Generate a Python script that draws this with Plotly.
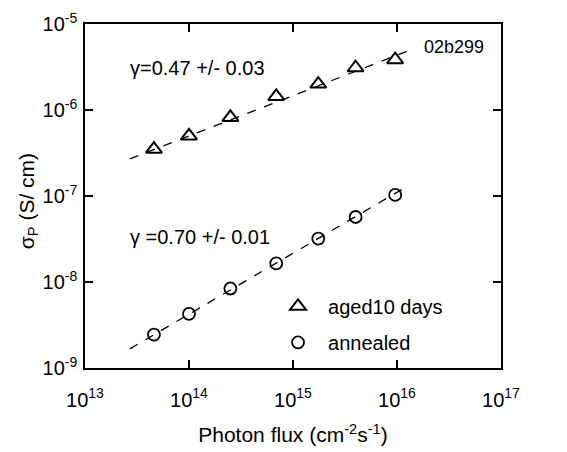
import plotly.graph_objects as go

# Data
flux = [4.6e13, 1.0e14, 2.5e14, 6.9e14, 1.75e15, 4.0e15, 9.6e15]
sigma_aged = [3.5e-7, 5.0e-7, 8.2e-7, 1.44e-6, 2.0e-6, 3.1e-6, 3.85e-6]
sigma_annealed = [2.45e-9, 4.27e-9, 8.4e-9, 1.65e-8, 3.2e-8, 5.7e-8, 1.03e-7]

fit_x = [2.7e13, 1.3e16]
fit_aged_y = [2.7e-7, 4.9e-6]
fit_annealed_y = [1.67e-9, 1.33e-7]

x_tickvals = [1e13, 1e14, 1e15, 1e16, 1e17]
x_ticktext = ["10<sup>13</sup>", "10<sup>14</sup>", "10<sup>15</sup>", "10<sup>16</sup>", "10<sup>17</sup>"]
y_tickvals = [1e-9, 1e-8, 1e-7, 1e-6, 1e-5]
y_ticktext = ["10<sup>-9</sup>", "10<sup>-8</sup>", "10<sup>-7</sup>", "10<sup>-6</sup>", "10<sup>-5</sup>"]

FONT = "Arial, Liberation Sans, sans-serif"

fig = go.Figure()
fig.add_trace(go.Scatter(x=fit_x, y=fit_aged_y, mode="lines",
                         line=dict(color="black", width=1.3, dash="9px,9px"),
                         showlegend=False, hoverinfo="skip"))
fig.add_trace(go.Scatter(x=fit_x, y=fit_annealed_y, mode="lines",
                         line=dict(color="black", width=1.3, dash="9px,9px"),
                         showlegend=False, hoverinfo="skip"))
fig.add_trace(go.Scatter(x=flux, y=sigma_aged, mode="markers", name="aged10 days",
                         legendgroup="a",
                         marker=dict(symbol="triangle-up-open", size=14, color="black",
                                     line=dict(width=2, color="black"))))
fig.add_trace(go.Scatter(x=flux, y=sigma_annealed, mode="markers", name="annealed",
                         legendgroup="b",
                         marker=dict(symbol="circle-open", size=12, color="black",
                                     line=dict(width=1.8, color="black"))))

axis_common = dict(showline=True, linecolor="black", linewidth=1.5, mirror="ticks",
                   ticks="inside", ticklen=8, tickwidth=1.5, tickcolor="black",
                   showgrid=False, zeroline=False, automargin=False,
                   tickfont=dict(family=FONT, size=20, color="black"))

fig.update_xaxes(type="log", range=[13, 17], tickvals=x_tickvals, ticktext=x_ticktext,
                 ticklabelstandoff=13,
                 title=dict(text="Photon flux (cm<sup>-2</sup>s<sup>-1</sup>)",
                            font=dict(family=FONT, size=21, color="black"), standoff=18),
                 **axis_common)
fig.update_yaxes(type="log", range=[-9, -5], tickvals=y_tickvals, ticktext=y_ticktext,
                 ticklabelstandoff=2,
                 **axis_common)

# y-axis title placed as rotated text
fig.add_annotation(text="σ<sub>P</sub> (S/ cm)", xref="paper", yref="paper",
                   x=-0.137, y=0.485, xanchor="center", yanchor="middle",
                   textangle=-90, showarrow=False,
                   font=dict(family=FONT, size=21, color="black"))

fig.add_annotation(text="γ=0.47 +/- 0.03", xref="paper", yref="paper", x=0.103, y=0.872,
                   xanchor="left", yanchor="middle", showarrow=False,
                   font=dict(family=FONT, size=20, color="black"))
fig.add_annotation(text="γ =0.70 +/- 0.01", xref="paper", yref="paper", x=0.103, y=0.381,
                   xanchor="left", yanchor="middle", showarrow=False,
                   font=dict(family=FONT, size=20, color="black"))
fig.add_annotation(text="02b299", xref="paper", yref="paper", x=0.965, y=0.933,
                   xanchor="right", yanchor="middle", showarrow=False,
                   font=dict(family=FONT, size=18, color="black"))

fig.update_layout(
    width=567, height=452,
    margin=dict(l=77, r=74, t=16, b=92),
    paper_bgcolor="white", plot_bgcolor="white",
    font=dict(family=FONT, color="black"),
    legend=dict(x=0.44, y=0.127, xanchor="left", yanchor="middle",
                bgcolor="rgba(0,0,0,0)", tracegroupgap=7, itemwidth=50,
                font=dict(family=FONT, size=20, color="black")),
)

fig.write_html("out.html")
